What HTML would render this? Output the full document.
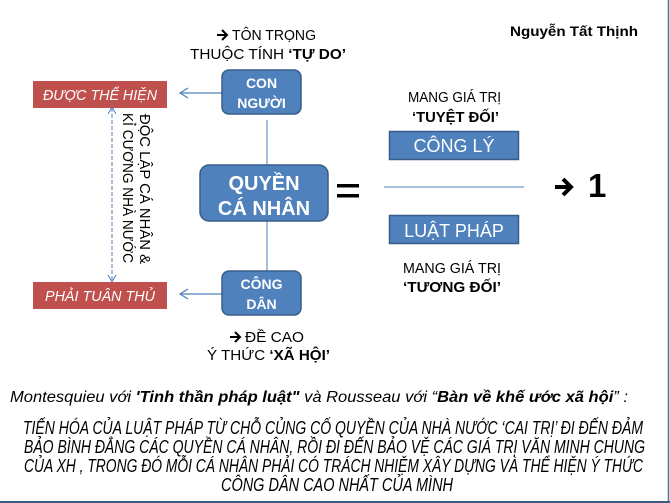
<!DOCTYPE html>
<html><head><meta charset="utf-8"><style>
html,body{margin:0;padding:0;background:#fff;}
svg{display:block;}
text{font-family:"Liberation Sans","DejaVu Sans",sans-serif;}
</style></head><body>
<svg width="670" height="503" viewBox="0 0 670 503" xmlns="http://www.w3.org/2000/svg">
<rect x="0" y="0" width="670" height="503" fill="#fff"/>
<line x1="668.5" y1="0" x2="668.5" y2="503" stroke="#5a6f8c" stroke-width="1.5"/>
<line x1="0" y1="502" x2="670" y2="502" stroke="#3d5a80" stroke-width="2"/>

<text x="510" y="36" font-size="14" font-weight="bold" textLength="128" lengthAdjust="spacingAndGlyphs">Nguyễn  Tất  Thịnh</text>

<rect x="33" y="81" width="134" height="27" fill="#c0504d"/>
<text x="100" y="100" text-anchor="middle" font-size="15" font-style="italic" fill="#fff" textLength="114" lengthAdjust="spacingAndGlyphs">ĐƯỢC THỂ  HIỆN</text>
<rect x="33" y="282" width="134" height="27" fill="#c0504d"/>
<text x="100" y="301" text-anchor="middle" font-size="15" font-style="italic" fill="#fff" textLength="110" lengthAdjust="spacingAndGlyphs">PHẢI TUÂN THỦ</text>

<line x1="112" y1="108" x2="112" y2="281" stroke="#4f81bd" stroke-width="1" stroke-dasharray="4,2"/>
<path d="M108,114 L112,107 L116,114" fill="none" stroke="#4f81bd" stroke-width="1"/>
<path d="M108,275 L112,282 L116,275" fill="none" stroke="#4f81bd" stroke-width="1"/>

<text transform="translate(140,114) rotate(90)" font-size="15" textLength="150" lengthAdjust="spacingAndGlyphs">ĐỘC  LẬP CÁ NHÂN  &amp;</text>
<text transform="translate(123,113) rotate(90)" font-size="15" textLength="150" lengthAdjust="spacingAndGlyphs">KỈ CƯƠNG NHÀ NƯỚC</text>

<line x1="267" y1="120" x2="267" y2="166" stroke="#4f81bd" stroke-width="1"/>
<line x1="267" y1="221" x2="267" y2="271" stroke="#4f81bd" stroke-width="1"/>
<line x1="222" y1="93" x2="180" y2="93" stroke="#4f81bd" stroke-width="1.2"/>
<path d="M188,88 L180,93 L188,98" fill="none" stroke="#4f81bd" stroke-width="1.2"/>
<line x1="222" y1="294" x2="180" y2="294" stroke="#4f81bd" stroke-width="1.2"/>
<path d="M188,289 L180,294 L188,299" fill="none" stroke="#4f81bd" stroke-width="1.2"/>

<rect x="222" y="70" width="79" height="44" rx="7" fill="#4f81bd" stroke="#385d8a" stroke-width="1.5"/>
<text x="261.5" y="88" text-anchor="middle" font-size="14" font-weight="bold" fill="#fff">CON</text>
<text x="261.5" y="108" text-anchor="middle" font-size="14" font-weight="bold" fill="#fff">NGƯỜI</text>

<rect x="200" y="165" width="128" height="56" rx="9" fill="#4f81bd" stroke="#385d8a" stroke-width="1.5"/>
<text x="264" y="190" text-anchor="middle" font-size="20" font-weight="bold" fill="#fff">QUYỀN</text>
<text x="264" y="215" text-anchor="middle" font-size="20" font-weight="bold" fill="#fff">CÁ  NHÂN</text>

<rect x="222" y="271" width="79" height="44" rx="7" fill="#4f81bd" stroke="#385d8a" stroke-width="1.5"/>
<text x="261.5" y="289" text-anchor="middle" font-size="14" font-weight="bold" fill="#fff">CÔNG</text>
<text x="261.5" y="309" text-anchor="middle" font-size="14" font-weight="bold" fill="#fff">DÂN</text>

<path d="M217,35 L226,35 M222,30 L227,35 L222,40" fill="none" stroke="#000" stroke-width="2"/>
<text x="232" y="40" font-size="15" textLength="84" lengthAdjust="spacingAndGlyphs">TÔN TRỌNG</text>
<text x="190" y="59" font-size="15" textLength="156" lengthAdjust="spacingAndGlyphs">THUỘC TÍNH  <tspan font-weight="bold">‘TỰ  DO’</tspan></text>
<path d="M230,337 L239,337 M235,332 L240,337 L235,342" fill="none" stroke="#000" stroke-width="2"/>
<text x="245" y="342" font-size="15" textLength="59" lengthAdjust="spacingAndGlyphs">ĐỀ  CAO</text>
<text x="207" y="360" font-size="15" textLength="123" lengthAdjust="spacingAndGlyphs">Ý THỨC  <tspan font-weight="bold">‘XÃ  HỘI’</tspan></text>

<rect x="337" y="184" width="22" height="3.5" fill="#000"/>
<rect x="337" y="194" width="22" height="3.5" fill="#000"/>

<text x="408" y="102" font-size="15" textLength="93" lengthAdjust="spacingAndGlyphs">MANG GIÁ TRỊ</text>
<text x="412" y="122" font-size="15" font-weight="bold" textLength="87" lengthAdjust="spacingAndGlyphs">‘TUYỆT  ĐỐI’</text>
<rect x="389.5" y="131.5" width="129" height="28" fill="#4f81bd" stroke="#385d8a" stroke-width="1.5"/>
<text x="454" y="152" text-anchor="middle" font-size="18" fill="#fff">CÔNG  LÝ</text>

<line x1="384" y1="187" x2="524" y2="187" stroke="#4f81bd" stroke-width="1"/>

<rect x="389.5" y="215.5" width="129" height="28" fill="#4f81bd" stroke="#385d8a" stroke-width="1.5"/>
<text x="454" y="237" text-anchor="middle" font-size="18" fill="#fff">LUẬT  PHÁP</text>
<text x="403" y="273" font-size="15" textLength="98" lengthAdjust="spacingAndGlyphs">MANG GIÁ TRỊ</text>
<text x="403" y="292" font-size="15" font-weight="bold" textLength="98" lengthAdjust="spacingAndGlyphs">‘TƯƠNG  ĐỐI’</text>

<path d="M555,187 L570,187 M563,179 L571,187 L563,195" fill="none" stroke="#000" stroke-width="4"/>
<text x="588" y="197" font-size="33" font-weight="bold">1</text>

<text x="10" y="402" font-size="16" font-style="italic" textLength="618" lengthAdjust="spacingAndGlyphs">Montesquieu với <tspan font-weight="bold">'Tinh thần pháp luật"</tspan> và Rousseau với “<tspan font-weight="bold">Bàn về khế ước xã hội</tspan>”  :</text>
<text x="23" y="434" font-size="18" font-style="italic" textLength="620" lengthAdjust="spacingAndGlyphs">TIẾN HÓA CỦA LUẬT PHÁP TỪ CHỖ CỦNG CỐ QUYỀN CỦA NHÀ NƯỚC ‘CAI TRỊ’ ĐI ĐẾN ĐẢM</text>
<text x="24" y="453" font-size="18" font-style="italic" textLength="621" lengthAdjust="spacingAndGlyphs">BẢO BÌNH ĐẲNG CÁC QUYỀN CÁ NHÂN, RỒI  ĐI ĐẾN BẢO VỆ CÁC GIÁ TRỊ VĂN MINH CHUNG</text>
<text x="24" y="472" font-size="18" font-style="italic" textLength="619" lengthAdjust="spacingAndGlyphs">CỦA XH , TRONG ĐÓ MỖI CÁ NHÂN PHẢI CÓ TRÁCH NHIỆM XÂY DỰNG VÀ THỂ HIỆN Ý THỨC</text>
<text x="221" y="491" font-size="18" font-style="italic" textLength="232" lengthAdjust="spacingAndGlyphs">CÔNG DÂN CAO NHẤT CỦA MÌNH</text>
</svg>
</body></html>
